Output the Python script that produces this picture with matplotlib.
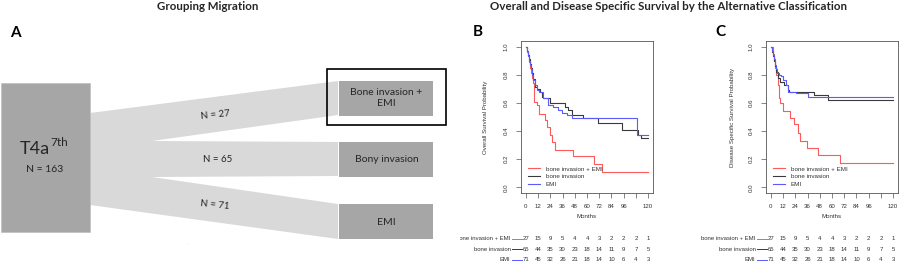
import numpy as np
import matplotlib.pyplot as plt
from matplotlib.patches import Polygon, Rectangle
from matplotlib.transforms import Bbox, blended_transform_factory

# ---- panel A: grouping migration ----
source_label = "T4a"
source_total = 163
target_labels = ["Bone invasion +\nEMI", "Bony invasion", "EMI"]
target_counts = [27, 65, 71]

# ---- panels B / C: Kaplan-Meier curves (months, survival) ----
groups = ["bone invasion + EMI", "bone invasion", "EMI"]
colors = ["#ff5a5a", "#3a3a3a", "#5a5aff"]

os_red_t = [0, 1, 2, 3, 4, 5, 6, 7, 8, 10.5, 12.5, 18.5, 21, 23.5, 26, 29, 46, 67, 75]
os_red_s = [1.0, 0.96, 0.93, 0.89, 0.85, 0.81, 0.78, 0.74, 0.61, 0.585, 0.52, 0.48, 0.43, 0.375, 0.32, 0.265, 0.22, 0.165, 0.11]
os_black_t = [0, 1, 2, 3, 4, 5, 6, 7, 8.8, 10.5, 13.7, 15.4, 17, 23.5, 38, 41.5, 44.8, 56, 71, 94, 110, 113]
os_black_s = [1.0, 0.97, 0.94, 0.91, 0.88, 0.85, 0.81, 0.77, 0.716, 0.70, 0.68, 0.645, 0.634, 0.598, 0.574, 0.55, 0.515, 0.49, 0.456, 0.41, 0.373, 0.35]
os_blue_t = [0, 1, 2, 3, 4, 5, 6, 7, 9, 10.5, 12.7, 17, 22, 27, 31.7, 35, 40, 44.8, 109.5]
os_blue_s = [1.0, 0.97, 0.93, 0.9, 0.87, 0.84, 0.8, 0.76, 0.73, 0.69, 0.68, 0.634, 0.586, 0.574, 0.55, 0.527, 0.515, 0.49, 0.37]

dss_red_t = [0, 2.3, 3, 4, 5, 6.6, 8.2, 9, 12, 18.7, 23, 26.3, 28.6, 35.5, 46, 67.4]
dss_red_s = [1.0, 0.95, 0.9, 0.85, 0.8, 0.73, 0.634, 0.6, 0.54, 0.49, 0.45, 0.385, 0.33, 0.28, 0.227, 0.173]
dss_black_t = [0, 1, 2, 3, 4, 5, 6.6, 8.5, 12.7, 16.4, 17.5, 42.8, 56]
dss_black_s = [1.0, 0.96, 0.93, 0.9, 0.86, 0.82, 0.775, 0.75, 0.73, 0.69, 0.68, 0.657, 0.62]
dss_blue_t = [0, 1, 2, 3, 4, 5, 6, 8, 10, 12, 14.5, 17, 24.7, 36.2]
dss_blue_s = [1.0, 0.97, 0.94, 0.91, 0.87, 0.84, 0.81, 0.8, 0.79, 0.76, 0.73, 0.68, 0.667, 0.645]

month_ticks = [0, 12, 24, 36, 48, 60, 72, 84, 96, 108, 120]
month_labels = ["0", "12", "24", "36", "48", "60", "72", "84", "96", "", "120"]
surv_ticks = [0.0, 0.2, 0.4, 0.6, 0.8, 1.0]

risk_red = [27, 15, 9, 5, 4, 4, 3, 2, 2, 2, 1]
risk_black = [65, 44, 35, 30, 23, 18, 14, 11, 9, 7, 5]
risk_blue = [71, 45, 32, 26, 21, 18, 14, 10, 6, 4, 3]

W, H = 900, 265
fig = plt.figure(figsize=(9, 2.65), dpi=100)


def fx(x):
    return x / W


def fy(y):
    return 1 - y / H


# background axes in pixel coordinates for the diagram
ax = fig.add_axes([0, 0, 1, 1])
ax.set_xlim(0, W)
ax.set_ylim(H, 0)
ax.axis("off")

box_dark = "#a6a6a6"
flow_light = "#d9d9d9"
sans = "Lato"
ink = "#262626"

# flows
flow = Polygon([(90, 113), (338, 81), (338, 115), (152, 141), (338, 142), (338, 176),
                (152, 177), (338, 204), (338, 239), (90, 205)],
               closed=True, facecolor=flow_light, edgecolor="none")
ax.add_patch(flow)

# source box
ax.add_patch(Rectangle((1, 83), 89, 149, facecolor=box_dark, edgecolor="#bfbfbf", lw=0.5))
ax.text(50, 149, source_label, ha="right", va="center", fontsize=13, family=sans, color=ink)
ax.text(50.5, 142, "7th", ha="left", va="center", fontsize=8.5, family=sans, color=ink)
ax.text(45, 169, "N = %d" % source_total, ha="center", va="center", fontsize=7.5,
        family=sans, color=ink)

# target boxes
box_tops = [81, 142, 204]
label_ys = [98, 159.5, 222.5]
n_pos = [(215, 115, 6), (218, 159.5, 0), (215, 205, -6)]
for top, lab, ly, n, (nx, ny, rot) in zip(box_tops, target_labels, label_ys, target_counts, n_pos):
    ax.add_patch(Rectangle((339, top), 94, 34.5, facecolor=box_dark, edgecolor="none"))
    ax.text(386.5, ly, lab, ha="center", va="center", fontsize=7.5, family=sans,
            linespacing=1.25, color=ink)
    ax.text(nx, ny, "N = %d" % n, ha="center", va="center", fontsize=7, family=sans,
            rotation=rot, color=ink)

ax.add_patch(Rectangle((327, 69), 119, 56, facecolor="none", edgecolor="black", lw=1.2))
ax.text(188, 244, "..", ha="center", va="center", fontsize=3, color="#999999")

# titles and panel letters
fig.text(fx(208), fy(6), "Grouping Migration", ha="center", va="center",
         fontsize=8.3, fontweight="bold", family=sans, color=ink)
fig.text(fx(669), fy(6), "Overall and Disease Specific Survival by the Alternative Classification",
         ha="center", va="center", fontsize=8.3, fontweight="bold", family=sans, color=ink)
fig.text(fx(15), fy(33), "A", ha="center", va="center", fontsize=11, fontweight="bold", family=sans)
fig.text(fx(478), fy(32), "B", ha="center", va="center", fontsize=11, fontweight="bold", family=sans)
fig.text(fx(720), fy(32), "C", ha="center", va="center", fontsize=11, fontweight="bold", family=sans)

rfont = "Liberation Sans"
rgray = "#333333"


def km_panel(left, right, curves, ylabel, clip_left, ylabelpad):
    top, bottom = 41, 193
    kax = fig.add_axes([fx(left), fy(bottom), (right - left) / W, (bottom - top) / H])
    for (t, s), c, g in zip(curves, colors, groups):
        kax.step(list(t) + [120], list(s) + [s[-1]], where="post", color=c, lw=0.8, label=g)
    kax.set_xlim(-4.8, 124.8)
    kax.set_ylim(-0.04, 1.04)
    kax.set_xticks(month_ticks)
    kax.set_xticklabels(month_labels, fontsize=4.4, family=rfont, color=rgray)
    kax.set_yticks(surv_ticks)
    kax.set_yticklabels(["%.1f" % v for v in surv_ticks], rotation=90, va="center",
                        fontsize=4.4, family=rfont, color=rgray)
    kax.tick_params(length=3.8, width=0.5, color="#555555")
    kax.tick_params(axis="x", pad=4)
    kax.tick_params(axis="y", pad=5)
    for sp in kax.spines.values():
        sp.set_linewidth(0.6)
        sp.set_color("#555555")
    kax.set_xlabel("Months", fontsize=4.4, family=rfont, color=rgray, labelpad=4)
    kax.set_ylabel(ylabel, fontsize=4.4, family=rfont, color=rgray, labelpad=ylabelpad)
    leg = kax.legend(loc="lower left", bbox_to_anchor=(0.035, 0.025), frameon=False,
                     prop={"family": rfont, "size": 4.5}, handlelength=1.9,
                     handletextpad=0.9, labelspacing=0.35, borderaxespad=0)
    for txt in leg.get_texts():
        txt.set_color(rgray)

    # number at risk table
    tr = blended_transform_factory(kax.transData, fig.transFigure)
    clip = Bbox([[clip_left / W * fig.bbox.width, 0], [fig.bbox.width, fig.bbox.height]])
    for row_y, g, c, risk in zip([238.5, 249.2, 259.5], groups, colors,
                                 [risk_red, risk_black, risk_blue]):
        lab = kax.text(-15, fy(row_y), g, transform=tr, ha="right", va="center",
                       fontsize=4.3, family=rfont, color=rgray, clip_on=True)
        lab.set_clip_box(clip)
        kax.plot([-13.5, -3.5], [fy(row_y)] * 2, transform=tr, color=c, lw=0.7, clip_on=False)
        for x, n in zip(month_ticks, risk):
            kax.text(x, fy(row_y), str(n), transform=tr, ha="center", va="center",
                     fontsize=4.3, family=rfont, color=rgray, clip_on=False)
    return kax


km_panel(521, 653, [(os_red_t, os_red_s), (os_black_t, os_black_s), (os_blue_t, os_blue_s)],
         "Overall Survival Probability", 460, 11)
km_panel(766, 898, [(dss_red_t, dss_red_s), (dss_black_t, dss_black_s), (dss_blue_t, dss_blue_s)],
         "Disease Specific Survival Probability", 680, 10)

fig.savefig("out.png", dpi=100)
